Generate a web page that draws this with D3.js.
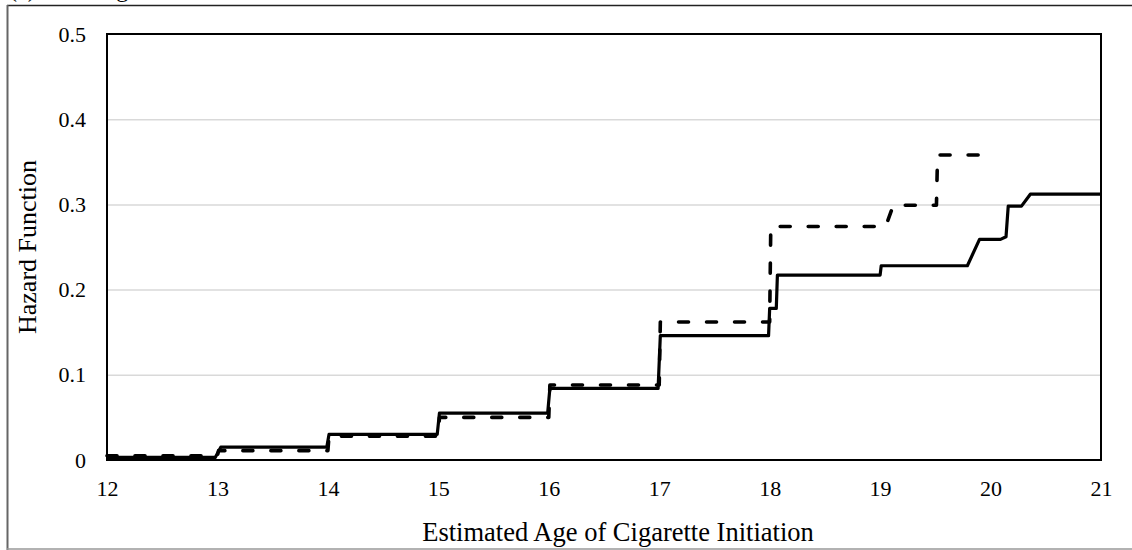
<!DOCTYPE html>
<html>
<head>
<meta charset="utf-8">
<script src="https://cdn.jsdelivr.net/npm/d3@7"></script>
<style>
  html, body { margin: 0; padding: 0; background: #fff; }
  svg { display: block; }
  text { font-family: "Liberation Serif", "Times New Roman", serif; fill: #000; }
</style>
</head>
<body>
<svg id="chart" width="1132" height="550"></svg>
<script>
// ---- Data ----
const xTicks = [12, 13, 14, 15, 16, 17, 18, 19, 20, 21];
const yTicks = [0, 0.1, 0.2, 0.3, 0.4, 0.5];
const yTickLabels = ["0", "0.1", "0.2", "0.3", "0.4", "0.5"];

// Solid series (age, hazard)
const solidAge = [12, 12.98, 13.03, 13.99, 14.01, 14.99, 15.01, 15.99, 16.01, 16.99, 17.01, 17.99, 18.0, 18.06, 18.07, 19.0, 19.01, 19.79, 19.9, 20.09, 20.14, 20.16, 20.28, 20.36, 21];
const solidHaz = [0.003, 0.003, 0.015, 0.015, 0.030, 0.030, 0.055, 0.055, 0.084, 0.084, 0.146, 0.146, 0.178, 0.178, 0.217, 0.217, 0.228, 0.228, 0.259, 0.259, 0.262, 0.298, 0.298, 0.312, 0.312];

// Dashed series (age, hazard)
const dashAge = [12, 13.0, 13.01, 14.0, 14.01, 15.0, 15.01, 16.0, 16.01, 17.0, 17.01, 18.0, 18.01, 19.05, 19.12, 19.51, 19.52, 20.0];
const dashHaz = [0.005, 0.005, 0.011, 0.011, 0.028, 0.028, 0.050, 0.050, 0.088, 0.088, 0.162, 0.162, 0.274, 0.274, 0.299, 0.299, 0.358, 0.358];

const xTitle = "Estimated Age of Cigarette Initiation";
const yTitle = "Hazard Function";
const topCaption = "(c) Smoking";

// ---- Layout ----
const svg = d3.select("#chart");
const plot = { left: 107, right: 1101, top: 34, bottom: 460 };

const x = d3.scaleLinear().domain([12, 21]).range([plot.left, plot.right]);
const y = d3.scaleLinear().domain([0, 0.5]).range([plot.bottom, plot.top]);

// Outer frame (partially cropped)
svg.append("line").attr("x1", 7).attr("x2", 1132).attr("y1", 5.5).attr("y2", 5.5)
  .attr("stroke", "#222").attr("stroke-width", 1.5);
svg.append("line").attr("x1", 7.5).attr("x2", 7.5).attr("y1", 5).attr("y2", 550)
  .attr("stroke", "#666").attr("stroke-width", 2);
svg.append("line").attr("x1", 7).attr("x2", 1132).attr("y1", 549).attr("y2", 549)
  .attr("stroke", "#999").attr("stroke-width", 1.5);

// Cropped caption at top (cut off in the reference as well)
svg.append("text").attr("x", 9).attr("y", -3.5)
  .style("font-size", "24px").text(topCaption);

// Gridlines
svg.append("g")
  .attr("transform", `translate(${plot.left},0)`)
  .call(d3.axisLeft(y).tickValues(yTicks.filter(v => v > 0 && v < 0.5)).tickSize(-(plot.right - plot.left)).tickFormat(""))
  .call(g => g.select(".domain").remove())
  .call(g => g.selectAll("line").attr("stroke", "#d9d9d9").attr("stroke-width", 1.5));

// Y axis labels
svg.append("g")
  .attr("transform", `translate(${plot.left},0)`)
  .call(d3.axisLeft(y).tickValues(yTicks).tickSize(0).tickPadding(21)
        .tickFormat((d, i) => yTickLabels[i]))
  .call(g => g.select(".domain").remove())
  .call(g => g.selectAll("text").style("font-size", "22px")
        .style("font-family", '"Liberation Serif", serif').attr("fill", "#000"));

// X axis labels
svg.append("g")
  .attr("transform", `translate(0,${plot.bottom})`)
  .call(d3.axisBottom(x).tickValues(xTicks).tickSize(0).tickPadding(20).tickFormat(d3.format("d")))
  .call(g => g.select(".domain").remove())
  .call(g => g.selectAll("text").style("font-size", "22px")
        .style("font-family", '"Liberation Serif", serif').attr("fill", "#000"));

// Lines
const line = d3.line().x(d => x(d[0])).y(d => y(d[1]));
const solidData = solidAge.map((a, i) => [a, solidHaz[i]]);
const dashData = dashAge.map((a, i) => [a, dashHaz[i]]);

svg.append("path").datum(dashData).attr("d", line)
  .attr("fill", "none").attr("stroke", "#000").attr("stroke-width", 3.6)
  .attr("stroke-dasharray", "10,18").attr("stroke-linecap", "round")
  .attr("stroke-linejoin", "round");

svg.append("path").datum(solidData).attr("d", line)
  .attr("fill", "none").attr("stroke", "#000").attr("stroke-width", 3.2)
  .attr("stroke-linejoin", "round");

// Plot frame
svg.append("rect")
  .attr("x", plot.left).attr("y", plot.top)
  .attr("width", plot.right - plot.left).attr("height", plot.bottom - plot.top)
  .attr("fill", "none").attr("stroke", "#000").attr("stroke-width", 2);

// Axis titles
svg.append("text")
  .attr("x", 618).attr("y", 541)
  .attr("text-anchor", "middle").style("font-size", "26.5px").text(xTitle);

svg.append("text")
  .attr("transform", `translate(36,${(plot.top + plot.bottom) / 2}) rotate(-90)`)
  .attr("text-anchor", "middle").style("font-size", "26px").text(yTitle);
</script>
</body>
</html>
